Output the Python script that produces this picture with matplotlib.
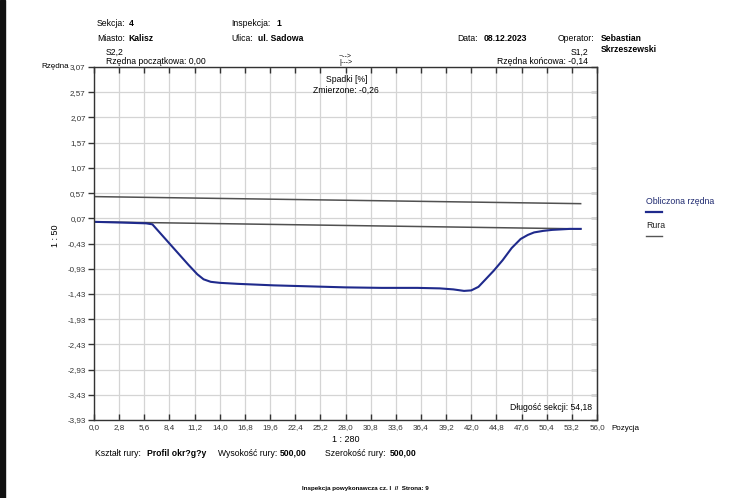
import matplotlib.pyplot as plt
from matplotlib.patches import Rectangle

plt.rcParams['font.family'] = ['Liberation Sans', 'DejaVu Sans']

# tick positions / labels of the profile
x_ticks = [0.0, 2.8, 5.6, 8.4, 11.2, 14.0, 16.8, 19.6, 22.4, 25.2, 28.0,
           30.8, 33.6, 36.4, 39.2, 42.0, 44.8, 47.6, 50.4, 53.2, 56.0]
y_ticks = [3.07, 2.57, 2.07, 1.57, 1.07, 0.57, 0.07, -0.43, -0.93, -1.43,
           -1.93, -2.43, -2.93, -3.43, -3.93]

# computed elevation (Obliczona rzedna)
pos = [0.0, 2.0, 4.0, 5.8, 6.5, 7.5, 8.5, 9.5, 10.5, 11.5, 12.2, 13.0, 14.0,
       16.0, 20.0, 24.0, 28.0, 32.0, 36.0, 38.5, 40.0, 41.2, 42.0, 42.8,
       43.6, 44.5, 45.5, 46.5, 47.5, 48.3, 49.0, 50.0, 51.0, 52.0, 53.0, 54.18]
elev = [0.00, -0.01, -0.02, -0.03, -0.05, -0.25, -0.45, -0.65, -0.85, -1.04,
        -1.14, -1.19, -1.21, -1.23, -1.26, -1.28, -1.30, -1.31, -1.31, -1.32,
        -1.34, -1.37, -1.36, -1.29, -1.14, -0.97, -0.76, -0.52, -0.34, -0.26,
        -0.21, -0.18, -0.16, -0.15, -0.14, -0.14]

# pipe (Rura): bottom and top line
pipe_x = [0.0, 54.18]
pipe_bottom = [0.00, -0.14]
pipe_top = [0.50, 0.36]

W, H = 730, 498
fig = plt.figure(figsize=(W / 100, H / 100), dpi=100)
ax = fig.add_axes([94 / W, 1 - 420 / H, 503 / W, 353 / H])


def px(x, y):
    return x / W, 1 - y / H


ax.plot(pipe_x, pipe_top, color='#505050', lw=1.1)
ax.plot(pipe_x, pipe_bottom, color='#505050', lw=1.1)
ax.plot(pos, elev, color='#1f2a8c', lw=1.5)

ax.set_xlim(0, 56)
ax.set_ylim(-3.93, 3.07)
ax.set_xticks(x_ticks)
ax.set_xticklabels([f"{v:.1f}".replace('.', ',') for v in x_ticks])
ax.set_yticks(y_ticks)
ax.set_yticklabels([f"{v:.2f}".replace('.', ',') for v in y_ticks])
ax.grid(True, color='#d4d4d4', lw=0.9)
ax.tick_params(axis='both', labelsize=5.8, colors='#333333', length=4, width=1)
ax.tick_params(axis='y', direction='out', pad=2)
ax.tick_params(axis='x', direction='in', top=True, pad=3)
for s in ax.spines.values():
    s.set_color('#333333')
    s.set_linewidth(1.0)

# inward ticks on the right frame
rax = ax.secondary_yaxis('right')
rax.set_yticks(y_ticks)
rax.tick_params(direction='in', length=4, width=1, colors='#333333', labelright=False)
rax.spines['right'].set_color('#333333')

# header
fs = 6.2
fig.text(*px(97, 24), "Sekcja:", fontsize=fs, va='center')
fig.text(*px(129, 24), "4", fontsize=fs, va='center', weight='bold')
fig.text(*px(97, 38), "Miasto:", fontsize=fs, va='center')
fig.text(*px(128, 38), "Kalisz", fontsize=fs, va='center', weight='bold')
fig.text(*px(231, 24), "Inspekcja:", fontsize=fs, va='center')
fig.text(*px(276, 24), "1", fontsize=fs, va='center', weight='bold')
fig.text(*px(231, 38), "Ulica:", fontsize=fs, va='center')
fig.text(*px(258, 38), "ul. Sadowa", fontsize=fs, va='center', weight='bold')
fig.text(*px(457, 38), "Data:", fontsize=fs, va='center')
fig.text(*px(484, 38), "08.12.2023", fontsize=fs, va='center', weight='bold')
fig.text(*px(558, 38), "Operator:", fontsize=fs, va='center')
fig.text(*px(601, 38), "Sebastian", fontsize=fs, va='center', weight='bold')
fig.text(*px(601, 49), "Skrzeszewski", fontsize=fs, va='center', weight='bold')

fig.text(*px(106, 52), "S2,2", fontsize=fs, va='center')
fig.text(*px(106, 62), "Rzędna początkowa: 0,00", fontsize=fs, va='center')
fig.text(*px(588, 52), "S1,2", fontsize=fs, va='center', ha='right')
fig.text(*px(588, 62), "Rzędna końcowa: -0,14", fontsize=fs, va='center', ha='right')
fig.text(*px(339, 56), "~-->", fontsize=5, va='center')
fig.text(*px(339, 63), "|--->", fontsize=5, va='center')
fig.text(*px(347, 79), "Spadki [%]", fontsize=fs, va='center', ha='center')
fig.text(*px(346, 90), "Zmierzone: -0,26", fontsize=fs, va='center', ha='center')

fig.text(*px(41, 67), "Rzędna", fontsize=5.8, va='center')
fig.text(*px(55, 236), "1 : 50", fontsize=6.5, va='center', ha='center', rotation=90)
fig.text(*px(611, 428), "Pozycja", fontsize=5.8, va='center')
fig.text(*px(346, 439), "1 : 280", fontsize=6.5, va='center', ha='center')
fig.text(*px(592, 407), "Długość sekcji: 54,18", fontsize=fs, va='center', ha='right')

# legend
fig.text(*px(646, 202), "Obliczona rzędna", fontsize=6.3, va='center', color='#1f2a70')
fig.add_artist(plt.Line2D([646 / W, 662 / W], [1 - 212 / H] * 2, color='#1f2a8c', lw=1.6))
fig.text(*px(646, 226), "Rura", fontsize=6.3, va='center', color='#222222')
fig.add_artist(plt.Line2D([646 / W, 662 / W], [1 - 236 / H] * 2, color='#555555', lw=1.0))

# footer
fig.text(*px(95, 453), "Kształt rury:", fontsize=fs, va='center')
fig.text(*px(147, 453), "Profil okr?g?y", fontsize=fs, va='center', weight='bold')
fig.text(*px(218, 453), "Wysokość rury:", fontsize=fs, va='center')
fig.text(*px(280, 453), "500,00", fontsize=fs, va='center', weight='bold')
fig.text(*px(325, 453), "Szerokość rury:", fontsize=fs, va='center')
fig.text(*px(390, 453), "500,00", fontsize=fs, va='center', weight='bold')
fig.text(*px(302, 488), "Inspekcja powykonawcza cz. I  //  Strona: 9", fontsize=4.5,
         va='center', weight='bold')

# dark scan border on the left
fig.add_artist(Rectangle((0, 0), 5 / W, 1, transform=fig.transFigure, color='#111111'))

fig.savefig("out.png", dpi=100)
